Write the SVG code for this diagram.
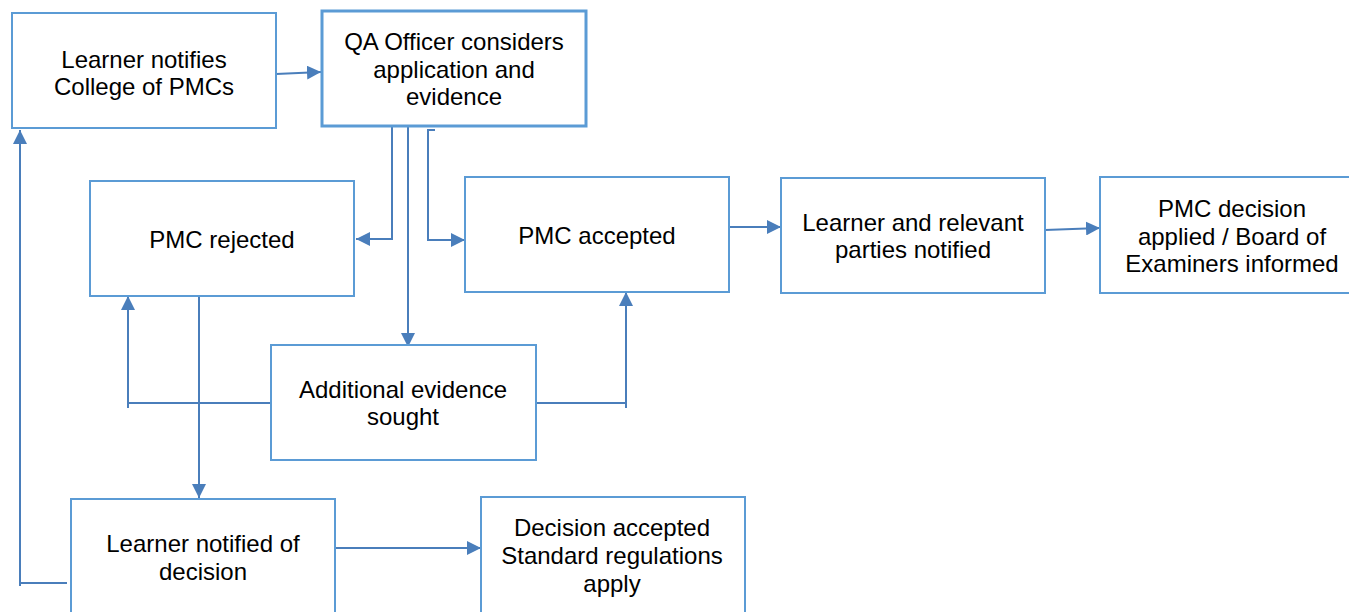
<svg xmlns="http://www.w3.org/2000/svg" width="1349" height="612" viewBox="0 0 1349 612">
<defs>
<style>
.box{fill:#ffffff;stroke:#5b9bd5;stroke-width:2}
.thick{stroke-width:3}
.t{font-family:"Liberation Sans",Arial,sans-serif;font-size:24px;fill:#000;text-anchor:middle}
.c{fill:none;stroke:#4a7ebb;stroke-width:2}
</style>
<marker id="ah" viewBox="0 0 10 10" refX="10" refY="5" markerWidth="14" markerHeight="14" markerUnits="userSpaceOnUse" orient="auto">
<path d="M0,0 L10,5 L0,10 z" fill="#4a7ebb"/>
</marker>
</defs>
<rect width="1349" height="612" fill="#ffffff"/>
<g id="connectors">
<path class="c" d="M276,74 L321,72" marker-end="url(#ah)"/>
<path class="c" d="M392,126 L392,239 L356,239" marker-end="url(#ah)"/>
<path class="c" d="M408,124 L408,347" marker-end="url(#ah)"/>
<path class="c" d="M435,130 L428,130 L428,240 L465,240" marker-end="url(#ah)"/>
<path class="c" d="M729,227 L781,227" marker-end="url(#ah)"/>
<path class="c" d="M1045,230 L1100,228" marker-end="url(#ah)"/>
<path class="c" d="M271,403 L129,403"/>
<path class="c" d="M128,408 L128,296" marker-end="url(#ah)"/>
<path class="c" d="M536,403 L626,403"/>
<path class="c" d="M626,408 L626,292" marker-end="url(#ah)"/>
<path class="c" d="M199,291 L199,498" marker-end="url(#ah)"/>
<path class="c" d="M335,548 L481,548" marker-end="url(#ah)"/>
<path class="c" d="M67,583 L20,583"/>
<path class="c" d="M20,586 L20,130" marker-end="url(#ah)"/>
</g>
<g id="n1"><rect class="box" x="12" y="13" width="264" height="115"/>
<text class="t" x="144" y="68">Learner notifies</text><text class="t" x="144" y="95">College of PMCs</text></g>
<g id="n2"><rect class="box thick" x="322" y="11" width="264" height="115"/>
<text class="t" x="454" y="50">QA Officer considers</text><text class="t" x="454" y="78">application and</text><text class="t" x="454" y="105">evidence</text></g>
<g id="n3"><rect class="box" x="90" y="181" width="264" height="115"/>
<text class="t" x="222" y="248">PMC rejected</text></g>
<g id="n4"><rect class="box" x="465" y="177" width="264" height="115"/>
<text class="t" x="597" y="244">PMC accepted</text></g>
<g id="n5"><rect class="box" x="781" y="178" width="264" height="115"/>
<text class="t" x="913" y="231">Learner and relevant</text><text class="t" x="913" y="258">parties notified</text></g>
<g id="n6"><rect class="box" x="1100" y="177" width="264" height="116"/>
<text class="t" x="1232" y="217">PMC decision</text><text class="t" x="1232" y="245">applied / Board of</text><text class="t" x="1232" y="272">Examiners informed</text></g>
<g id="n7"><rect class="box" x="271" y="345" width="265" height="115"/>
<text class="t" x="403" y="398">Additional evidence</text><text class="t" x="403" y="425">sought</text></g>
<g id="n8"><rect class="box" x="71" y="499" width="264" height="120"/>
<text class="t" x="203" y="552">Learner notified of</text><text class="t" x="203" y="580">decision</text></g>
<g id="n9"><rect class="box" x="481" y="497" width="264" height="122"/>
<text class="t" x="612" y="536">Decision accepted</text><text class="t" x="612" y="564">Standard regulations</text><text class="t" x="612" y="592">apply</text></g>
</svg>
